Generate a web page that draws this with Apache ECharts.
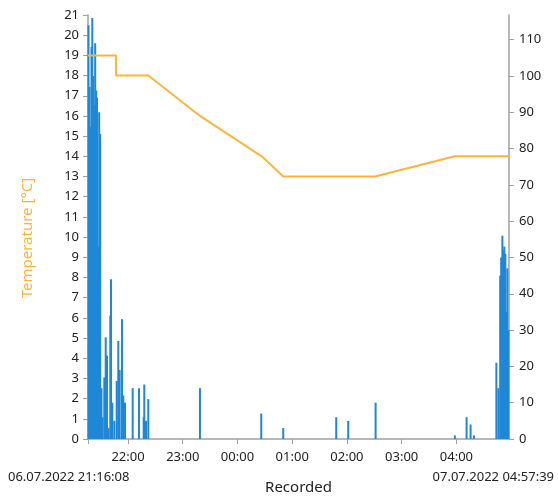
<!DOCTYPE html>
<html lang="en">
<head>
    <meta charset="UTF-8">
    <title>Recorded</title>
    <script src="https://cdn.jsdelivr.net/npm/echarts@6/dist/echarts.min.js"></script>
    <style>
        html, body { margin: 0; padding: 0; background: #fff; }
    </style>
</head>
<body>
    <div id="chart" style="width: 558px;height:500px;"></div>
</body>
</html>
<script type="text/javascript">
    var startTime = '2022-07-06 21:16:08';
    var endTime = '2022-07-07 04:57:39';

    // temperature line (left axis)
    var tempTimes = ['2022-07-06 21:16:08', '2022-07-06 21:46:49', '2022-07-06 21:46:49', '2022-07-06 22:22:13',
        '2022-07-06 23:18:52', '2022-07-07 00:26:29', '2022-07-07 00:50:10', '2022-07-07 02:30:39',
        '2022-07-07 03:58:19', '2022-07-07 04:57:39'];
    var tempValues = [19, 19, 18, 18, 16, 14, 13, 13, 14, 14];

    // bars (right axis)
    var barTimes = ['2022-07-06 21:16:41', '2022-07-06 21:17:47', '2022-07-06 21:18:52', '2022-07-06 21:19:58',
        '2022-07-06 21:20:51', '2022-07-06 21:21:50', '2022-07-06 21:22:56', '2022-07-06 21:24:01',
        '2022-07-06 21:25:07', '2022-07-06 21:26:00', '2022-07-06 21:27:06', '2022-07-06 21:28:24',
        '2022-07-06 21:29:30', '2022-07-06 21:30:56', '2022-07-06 21:32:01', '2022-07-06 21:34:00',
        '2022-07-06 21:35:32', '2022-07-06 21:36:57', '2022-07-06 21:38:36', '2022-07-06 21:40:34',
        '2022-07-06 21:41:20', '2022-07-06 21:42:46', '2022-07-06 21:44:57', '2022-07-06 21:47:35',
        '2022-07-06 21:49:20', '2022-07-06 21:50:52', '2022-07-06 21:53:24', '2022-07-06 21:54:49',
        '2022-07-06 21:56:41', '2022-07-06 22:05:07', '2022-07-06 22:12:01', '2022-07-06 22:17:11',
        '2022-07-06 22:17:50', '2022-07-06 22:19:42', '2022-07-06 22:22:13', '2022-07-06 23:18:52',
        '2022-07-07 00:26:03', '2022-07-07 00:50:10', '2022-07-07 01:48:15', '2022-07-07 02:01:24',
        '2022-07-07 02:31:25', '2022-07-07 03:58:19', '2022-07-07 04:11:09', '2022-07-07 04:15:32',
        '2022-07-07 04:19:09', '2022-07-07 04:43:48', '2022-07-07 04:46:00', '2022-07-07 04:47:58',
        '2022-07-07 04:49:04', '2022-07-07 04:50:23', '2022-07-07 04:51:29', '2022-07-07 04:52:34',
        '2022-07-07 04:53:40', '2022-07-07 04:54:46', '2022-07-07 04:55:52', '2022-07-07 04:56:57'];
    var barValues = [114, 97, 86, 108,
        116, 100, 92, 109,
        96, 94, 53, 90,
        84, 14, 6, 17,
        28, 23, 3, 34,
        44, 10, 5, 16,
        27, 19, 33, 12,
        10, 14, 14, 6,
        15, 5, 11, 14,
        7, 3, 6, 5,
        10, 1, 6, 4,
        1, 21, 14, 45,
        50, 56, 52, 53,
        51, 35, 47, 30];

    // x tick labels
    var hourTicks = ['2022-07-06 22:00:00', '2022-07-06 23:00:00', '2022-07-07 00:00:00', '2022-07-07 01:00:00',
        '2022-07-07 02:00:00', '2022-07-07 03:00:00', '2022-07-07 04:00:00'];
    var leftTicks = [0, 1, 2, 3, 4, 5, 6, 7, 8, 9, 10, 11, 12, 13, 14, 15, 16, 17, 18, 19, 20, 21];
    var rightTicks = [0, 10, 20, 30, 40, 50, 60, 70, 80, 90, 100, 110];

    function ts(s) {
        var p = s.split(/[- :]/);
        return new Date(+p[0], +p[1] - 1, +p[2], +p[3], +p[4], +p[5]).getTime();
    }
    function pad(n) { return (n < 10 ? '0' : '') + n; }

    var tempData = tempTimes.map(function (t, i) { return [ts(t), tempValues[i]]; });
    var barData = barTimes.map(function (t, i) { return [ts(t), barValues[i]]; });
    var hourVals = hourTicks.map(ts);

    var font = "'Segoe UI', 'Noto Sans', sans-serif";
    var axisGray = '#a0a0a0';
    var textColor = '#222';
    var orange = '#fdb43a';
    var blue = '#1f87d6';

    var chart = echarts.init(document.getElementById('chart'));
    var option = {
        animation: false,
        textStyle: { fontFamily: font },
        grid: { left: 88, right: 49, top: 15, bottom: 57 },
        xAxis: {
            type: 'value',
            min: ts(startTime),
            max: ts(endTime),
            name: 'Recorded',
            nameLocation: 'middle',
            nameGap: 41,
            nameTextStyle: { color: textColor, fontSize: 15, fontFamily: font },
            axisLine: { lineStyle: { color: axisGray, width: 1.5 } },
            axisTick: { show: true, length: 5, lineStyle: { color: axisGray }, customValues: [ts(startTime)].concat(hourVals) },
            axisLabel: {
                color: textColor, fontSize: 13, margin: 12,
                customValues: hourVals,
                formatter: function (v) {
                    var d = new Date(v);
                    return pad(d.getHours()) + ':' + pad(d.getMinutes());
                }
            },
            splitLine: { show: false }
        },
        yAxis: [
            {
                type: 'value',
                min: 0,
                max: 21,
                interval: 1,
                name: 'Temperature [°C]',
                nameLocation: 'middle',
                nameGap: 53,
                nameRotate: 90,
                nameTextStyle: { color: orange, fontSize: 15, fontFamily: font, padding: [0, 22, 0, 0] },
                axisLine: { show: true, lineStyle: { color: axisGray, width: 1.5 } },
                axisTick: { show: true, length: 5, lineStyle: { color: axisGray }, customValues: leftTicks },
                axisLabel: { color: textColor, fontSize: 13, margin: 9, customValues: leftTicks },
                splitLine: { show: false }
            },
            {
                type: 'value',
                min: 0,
                max: 116.8,
                position: 'right',
                axisLine: { show: true, lineStyle: { color: axisGray, width: 1.5 } },
                axisTick: { show: true, length: 5, lineStyle: { color: axisGray }, customValues: rightTicks },
                axisLabel: { color: textColor, fontSize: 13, margin: 10, customValues: rightTicks },
                splitLine: { show: false }
            }
        ],
        graphic: [
            {
                type: 'text', left: 8, top: 471,
                style: { text: '06.07.2022 21:16:08', fill: textColor, font: '13px ' + font }
            },
            {
                type: 'text', right: 4, top: 471,
                style: { text: '07.07.2022 04:57:39', fill: textColor, font: '13px ' + font }
            }
        ],
        series: [
            {
                name: 'Recorded',
                type: 'bar',
                yAxisIndex: 1,
                barWidth: 2,
                itemStyle: { color: blue },
                data: barData,
                z: 1
            },
            {
                name: 'Temperature',
                type: 'line',
                yAxisIndex: 0,
                symbol: 'none',
                lineStyle: { color: orange, width: 2 },
                data: tempData,
                z: 2
            }
        ]
    };
    chart.setOption(option);
</script>
